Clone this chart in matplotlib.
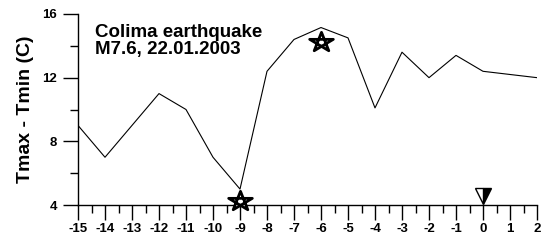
import numpy as np
import matplotlib
matplotlib.use('Agg')
import matplotlib.pyplot as plt
from matplotlib.path import Path

plt.rcParams['font.family'] = ['Liberation Sans', 'DejaVu Sans']
plt.rcParams['font.weight'] = 'bold'

# days relative to the earthquake and daily temperature range
days = [-15, -14, -13, -12, -11, -10, -9, -8, -7, -6, -5, -4, -3, -2, -1, 0, 2]
trange = [9.0, 7.0, 9.0, 11.0, 10.0, 7.0, 5.0, 12.4, 14.4, 15.15, 14.5, 10.1, 13.6, 12.0, 13.4, 12.4, 12.0]

# star markers (anomaly days) and the earthquake marker
star_days = [-9, -6]
star_vals = [4.28, 14.23]
quake_day = [0]
quake_val = [4.58]

xticks = list(range(-15, 3))
yticks = [4, 8, 12, 16]

# pentagram drawn as a closed line through every second vertex, a bit flattened
ang = np.pi / 2 + np.arange(5) * 2 * np.pi / 5
order = [0, 2, 4, 1, 3, 0]
verts = [(np.cos(ang[i]), 0.82 * np.sin(ang[i])) for i in order]
pentagram = Path(verts, [Path.MOVETO] + [Path.LINETO] * 4 + [Path.CLOSEPOLY])

fig = plt.figure(figsize=(5.42, 2.48), dpi=100)
ax = fig.add_axes([78 / 542, 43 / 248, 459 / 542, 191 / 248])

ax.plot(days, trange, color='black', lw=0.8, zorder=2)
ax.plot(star_days, star_vals, ls='none', marker=pentagram, markersize=17,
        markerfacecolor='white', markeredgecolor='black', markeredgewidth=2.0,
        clip_on=False, zorder=3)
ax.plot(quake_day, quake_val, ls='none', marker='v', markersize=12,
        fillstyle='right', markerfacecolor='black', markerfacecoloralt='white',
        markeredgecolor='black', markeredgewidth=1.0, clip_on=False, zorder=3)

ax.set_xlim(-15, 2)
ax.set_ylim(4, 16)
ax.set_xticks(xticks)
ax.set_xticks(np.arange(-14.5, 2, 1), minor=True)
ax.set_yticks(yticks)
ax.set_yticks([6, 10, 14], minor=True)
ax.set_xticklabels([str(t) for t in xticks])

ax.spines['top'].set_visible(False)
ax.spines['right'].set_visible(False)
for s in ['left', 'bottom']:
    ax.spines[s].set_linewidth(1.0)

ax.tick_params(axis='both', which='major', direction='out', length=11, width=1.0,
               labelsize=9.5, pad=4)
ax.tick_params(axis='both', which='minor', direction='out', length=5.5, width=1.0)
ax.tick_params(axis='x', which='major', pad=2)
for lab in ax.get_xticklabels() + ax.get_yticklabels():
    lab.set_fontweight('bold')

ax.set_ylabel('Tmax - Tmin (C)', fontsize=14, fontweight='bold', labelpad=6)
ax.text(0.037, 0.95, 'Colima earthquake\nM7.6, 22.01.2003', transform=ax.transAxes,
        fontsize=13.5, fontweight='bold', va='top', ha='left', linespacing=1.0)

fig.savefig('out.png', dpi=100)
